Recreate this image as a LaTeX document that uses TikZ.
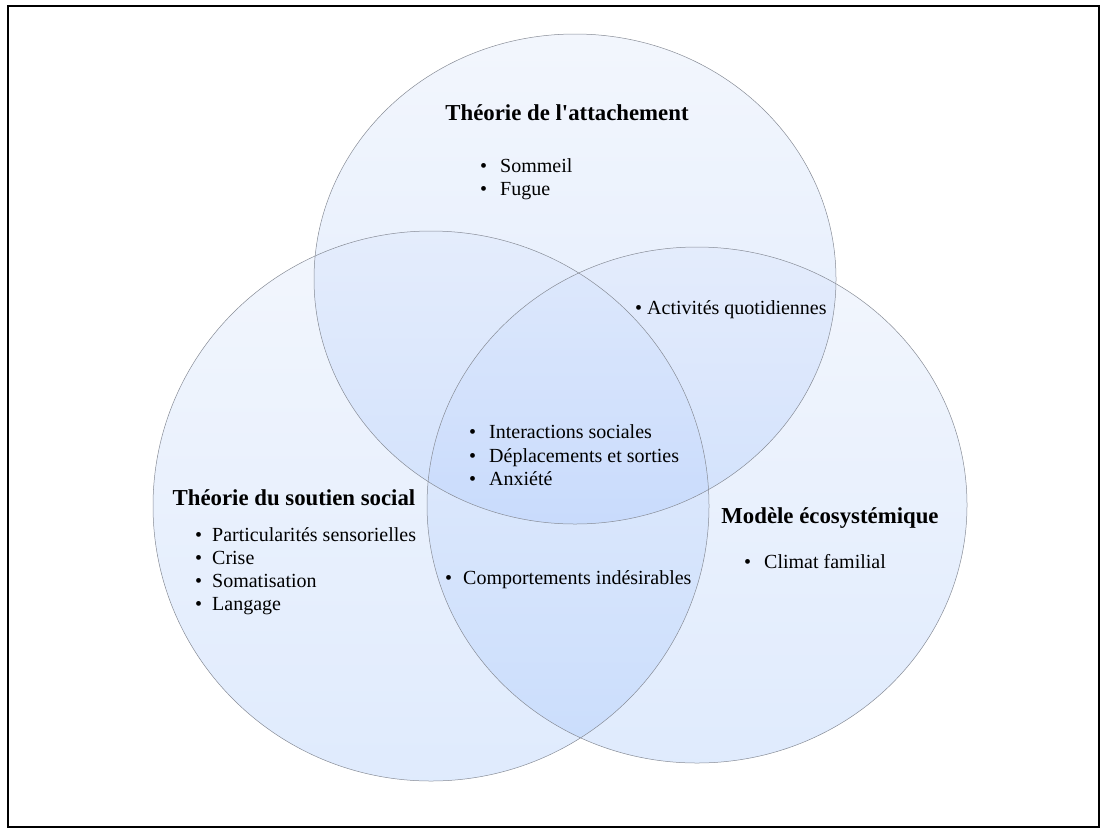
\documentclass[tikz,border=0pt]{standalone}
\usepackage{fontspec}
\setmainfont{Liberation Serif}
\definecolor{bleuhaut}{RGB}{214,226,250}
\definecolor{bleubas}{RGB}{150,188,250}
\definecolor{contour}{RGB}{135,140,150}
\newcommand{\puce}[1][20pt]{\makebox[#1][l]{•}}

\begin{document}
\begin{tikzpicture}[x=1pt,y=-1pt,
	cercle/.style={top color=bleuhaut,bottom color=bleubas,fill opacity=0.3},
	bord/.style={draw=contour,line width=0.5pt},
	titre/.style={anchor=base,inner sep=0pt,font=\fontsize{22.8}{27}\selectfont\bfseries},
	item/.style={anchor=base west,inner sep=0pt,font=\fontsize{20}{23}\selectfont}]
			\useasboundingbox (0,0) rectangle (1107,833);
			
			\coordinate (attach) at (575,279);
			\coordinate (soutien) at (431,506);
			\coordinate (eco) at (697,505);
			
			\shade[cercle] (attach) ellipse [x radius=261, y radius=245];
			\shade[cercle] (soutien) ellipse [x radius=278, y radius=275];
			\shade[cercle] (eco) ellipse [x radius=270, y radius=258];
			
			\draw[bord] (attach) ellipse [x radius=261, y radius=245];
			\draw[bord] (soutien) ellipse [x radius=278, y radius=275];
			\draw[bord] (eco) ellipse [x radius=270, y radius=258];
			
			\draw[line width=1.6pt] (8,6) rectangle (1099,827);
			
			% titres
			\node[titre] (tattach) at (567,120) {Théorie de l\textquotesingle attachement};
			\node[titre] (tsoutien) at (294,505) {Théorie du soutien social};
			\node[titre] (teco) at (830,523) {Modèle écosystémique};
			
			% listes
			\foreach \t [count=\i] in {Sommeil,Fugue}
				\node[item] (att\i) at (480,{172.5+23*(\i-1)}) {\puce\t};
			\foreach \t [count=\i] in {Particularités sensorielles,Crise,Somatisation,Langage}
				\node[item] (sou\i) at (195,{541.5+23*(\i-1)}) {\puce[17pt]\t};
			\foreach \t [count=\i] in {Interactions sociales,Déplacements et sorties,Anxiété}
				\node[item] (cen\i) at (469,{438.5+23.5*(\i-1)}) {\puce\t};
			\node[item] (quot) at (635,314.5) {\puce[12pt]Activités quotidiennes};
			\node[item] (comp) at (445,584.5) {\puce[18pt]Comportements indésirables};
			\node[item] (clim) at (744,568.5) {\puce Climat familial};
		\end{tikzpicture}
\end{document}
